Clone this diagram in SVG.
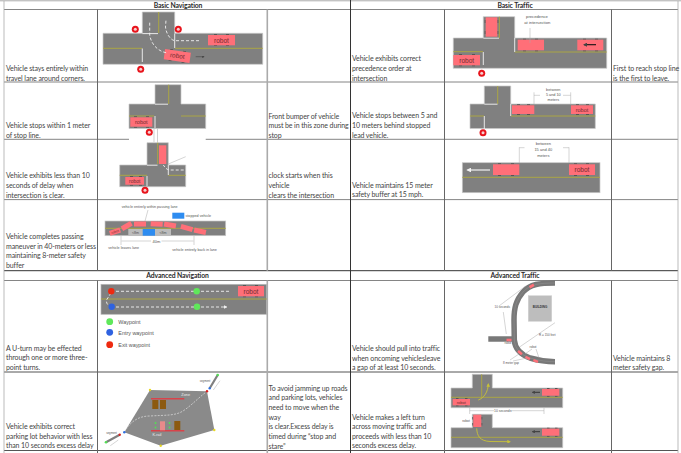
<svg xmlns="http://www.w3.org/2000/svg" width="681" height="453" viewBox="0 0 681 453">
<style>
.t{font-family:"Lato","Liberation Sans",sans-serif;font-size:7px;letter-spacing:-.1px;fill:#444}
.h{font-family:"Lato","Liberation Sans",sans-serif;font-size:6.8px;letter-spacing:-.1px;font-weight:700;fill:#2a2a2a;text-anchor:middle}
.s{font-family:"Liberation Sans",Arial,sans-serif;fill:#555}
.m{text-anchor:middle}
.rb{font-family:"Liberation Sans",Arial,sans-serif;fill:#702c30;text-anchor:middle}
.road{fill:#808080;stroke:#c8c8c8;stroke-width:.7}
.y{stroke:#aaa544;stroke-width:1;fill:none}
.w{stroke:#e8e8e8;stroke-width:1;fill:none}
.dash{stroke:#f2f2f2;stroke-width:.9;stroke-dasharray:3 2;fill:none}
.car{fill:#ff6f78}
.tire{fill:#555}
.thin{stroke:#aaa;stroke-width:.5;fill:none}
</style>
<defs>
<g id="stop"><circle r="3.5" fill="#e8141c"/><circle r="1.5" fill="#f6d0d0"/></g>
<marker id="ab" markerWidth="4" markerHeight="4" refX="3" refY="2" orient="auto"><path d="M0 0L4 2L0 4z" fill="#444"/></marker>
<marker id="aw" markerWidth="4" markerHeight="4" refX="3" refY="2" orient="auto"><path d="M0 0L4 2L0 4z" fill="#f2f2f2"/></marker>
<marker id="ay" markerWidth="4" markerHeight="4" refX="3" refY="2" orient="auto"><path d="M0 0L4 2L0 4z" fill="#c8c238"/></marker>
</defs>
<rect width="681" height="453" fill="#fff"/>

<g id="table-grid">
<path d="M0 .8H681" stroke="#aaa" stroke-width="1"/>
<path d="M4 9.500H678M4 82H678M4 139.300H678M4 199.600H678M4 280.500H678" stroke="#666" stroke-width=".8" fill="none"/>
<path d="M4 270.700H678" stroke="#333" stroke-width="1"/>
<path d="M4 372H678M4 450.500H678" stroke="#555" stroke-width="1"/>
<path d="M4 1V453M678 1V453" stroke="#aaa" stroke-width=".8"/>
<path d="M350.500 0V453" stroke="#333" stroke-width="1"/>
<path d="M97.500 9.500V270.700M97.500 280.500V453M444.500 9.500V270.700M444.500 280.500V453M611.500 9.500V270.700M611.500 280.500V453" stroke="#666" stroke-width="1"/>
<path d="M267.300 9.500V270.700M267.300 280.500V453" stroke="#aaa" stroke-width="1.600"/>
<rect x="129" y="137" width="76.700" height="5" fill="#fff"/>
</g>

<g id="headers">
<text class="h" x="178" y="8">Basic Navigation</text>
<text class="h" x="515" y="8">Basic Traffic</text>
<text class="h" x="177.500" y="278">Advanced Navigation</text>
<text class="h" x="515" y="278">Advanced Traffic</text>
</g>

<g id="cell-text">
<text class="t" x="6" y="71">Vehicle stays entirely within</text>
<text class="t" x="6" y="80.700">travel lane around corners.</text>
<text class="t" x="6" y="127.500">Vehicle stops within 1 meter</text>
<text class="t" x="6" y="137.500">of stop line.</text>
<text class="t" x="268.500" y="118.500">Front bumper of vehicle</text>
<text class="t" x="268.500" y="128">must be in this zone during</text>
<text class="t" x="268.500" y="137.500">stop</text>
<text class="t" x="6" y="178">Vehicle exhibits less than 10</text>
<text class="t" x="6" y="187.500">seconds of delay when</text>
<text class="t" x="6" y="197.500">intersection is clear.</text>
<text class="t" x="268.500" y="178">clock starts when this</text>
<text class="t" x="268.500" y="187.500">vehicle</text>
<text class="t" x="268.500" y="197.500">clears the intersection</text>
<text class="t" x="6" y="239">Vehicle completes passing</text>
<text class="t" x="6" y="248.700">maneuver in 40-meters or less</text>
<text class="t" x="6" y="258.300">maintaining 8-meter safety</text>
<text class="t" x="6" y="267.700">buffer</text>
<text class="t" x="6" y="350.500">A U-turn may be effected</text>
<text class="t" x="6" y="360">through one or more three-</text>
<text class="t" x="6" y="369.700">point turns.</text>
<text class="t" x="6" y="429">Vehicle exhibits correct</text>
<text class="t" x="6" y="438.700">parking lot behavior with less</text>
<text class="t" x="6" y="448.300">than 10 seconds excess delay</text>
<text class="t" x="268.500" y="390.700">To avoid jamming up roads</text>
<text class="t" x="268.500" y="400.300">and parking lots, vehicles</text>
<text class="t" x="268.500" y="410">need to move when the</text>
<text class="t" x="268.500" y="419.500">way</text>
<text class="t" x="268.500" y="429.300">is clear.Excess delay is</text>
<text class="t" x="268.500" y="439">timed during “stop and</text>
<text class="t" x="268.500" y="448.500">stare”</text>
<text class="t" x="352" y="61.300">Vehicle exhibits correct</text>
<text class="t" x="352" y="71">precedence order at</text>
<text class="t" x="352" y="80.600">intersection</text>
<text class="t" x="613" y="71">First to reach stop line</text>
<text class="t" x="613" y="80.600">is the first to leave.</text>
<text class="t" x="352" y="118.300">Vehicle stops between 5 and</text>
<text class="t" x="352" y="128">10 meters behind stopped</text>
<text class="t" x="352" y="137.600">lead vehicle.</text>
<text class="t" x="352" y="187.600">Vehicle maintains 15 meter</text>
<text class="t" x="352" y="197.300">safety buffer at 15 mph.</text>
<text class="t" x="352" y="351">Vehicle should pull into traffic</text>
<text class="t" x="352" y="360.600">when oncoming vehiclesleave</text>
<text class="t" x="352" y="370.300">a gap of at least 10 seconds.</text>
<text class="t" x="613" y="360.600">Vehicle maintains 8</text>
<text class="t" x="613" y="370.300">meter safety gap.</text>
<text class="t" x="352" y="419.600">Vehicle makes a left turn</text>
<text class="t" x="352" y="429.300">across moving traffic and</text>
<text class="t" x="352" y="438.600">proceeds with less than 10</text>
<text class="t" x="352" y="448.300">seconds excess delay.</text>
</g>

<g id="scene-corners">
<path class="road" d="M103 33.300H142.300V12H174.700V33.300H262.700V64.300H103z"/>
<path class="y" d="M103 48.300H142M158.700 12V33M175 48.300H262.700"/>
<path class="w" d="M142.300 33.600H158M174.700 33.500V48M142.300 48.500V62"/>
<path class="tire" d="M214 34h3v1h-3zM226 34h3v1h-3zM214 45h3v1h-3zM226 45h3v1h-3z"/>
<rect class="car" x="208" y="35" width="27" height="10.300"/>
<text class="rb" x="221.500" y="42.500" font-size="6.500">robot</text>
<g transform="translate(177.300 56) rotate(8)"><path class="tire" d="M-8-6h3v1h-3zM5-6h3v1h-3zM-8 5h3v1h-3zM5 5h3v1h-3z"/><rect class="car" x="-13" y="-5.200" width="26" height="10.400"/><text class="rb" y="2" font-size="6.500">robot</text></g>
<path class="dash" d="M199 40.700H175C170 40 166 33 165.500 27L166 20"/>
<path class="dash" d="M149.700 22.700V35C151 44 158 52 168 53"/>
<path d="M195.700 56.700H204" stroke="#444" stroke-width=".6" marker-end="url(#ab)"/>
<use href="#stop" x="135.300" y="29.300"/><use href="#stop" x="178.300" y="29.300"/><use href="#stop" x="140.700" y="69.300"/>
</g>

<g id="scene-stop-line">
<path class="road" d="M129 104H155V84.700H181V104H205.700V128.500H129z"/>
<path class="y" d="M129 116H154M168.700 84.700V104M181 116H205.700"/>
<path class="w" d="M155 104.200H168M155 116V128"/>
<path class="tire" d="M134 116.200h3v1h-3zM146 116.200h3v1h-3zM134 126.700h3v1h-3zM146 126.700h3v1h-3z"/>
<rect class="car" x="130.300" y="117.300" width="22" height="9.400"/>
<text class="rb" x="141.300" y="124" font-size="5.500">robot</text>
<path d="M154 128.500V142M157.500 128.500V142" stroke="#bbb" stroke-width=".7"/>
<use href="#stop" x="149.300" y="132.300"/>
</g>

<g id="scene-clock">
<path class="road" d="M119.700 165H147V142.700H168.300V165H185.700V186.700H119.700z"/>
<path class="y" d="M119.700 175.300H147M157.700 142.700V164M168.300 175.300H185.700"/>
<path class="w" d="M147 165.200H157.500M168.300 165V175M147 176V186"/>
<rect class="car" x="159" y="145.300" width="7.300" height="18.700"/>
<path class="tire" d="M130 176h3v1h-3zM139 176h3v1h-3zM130 184.700h3v1h-3zM139 184.700h3v1h-3z"/>
<rect class="car" x="125.300" y="177" width="18.700" height="7.700"/>
<text class="rb" x="134.700" y="183" font-size="5">robot</text>
<path class="thin" d="M168.300 164L185.700 156.700"/>
<path class="dash" d="M183.700 170H170C167 170 165.500 168 163.300 165"/>
<use href="#stop" x="145" y="190.300"/>
</g>

<g id="scene-passing">
<rect class="road" x="105" y="221" width="120.700" height="14.700"/>
<path class="y" d="M105 228.300H225.700"/>
<rect x="128.300" y="229" width="42.700" height="6.700" fill="#bcbcbc"/>
<rect x="142.700" y="229" width="12.300" height="6.700" fill="#2e8cf0"/>
<text class="s m" x="135.500" y="233.500" font-size="3.600">&lt;8m</text>
<text class="s m" x="163" y="233.500" font-size="3.600">&lt;8m</text>
<g class="car">
<g transform="translate(115 231.700) rotate(-18)"><rect x="-5.500" y="-2.500" width="11" height="5"/><text class="rb" y="1.200" font-size="3.400">robot</text></g>
<rect x="-5.500" y="-2.500" width="11" height="5" transform="translate(126.700 226) rotate(-30)"/>
<rect x="-6" y="-2.500" width="12" height="5" transform="translate(140 224)"/>
<rect x="-6" y="-2.500" width="12" height="5" transform="translate(156.700 224) rotate(3)"/>
<rect x="-6" y="-2.500" width="12" height="5" transform="translate(170 225) rotate(10)"/>
<rect x="-6" y="-2.500" width="12" height="5" transform="translate(186.700 228) rotate(15)"/>
<rect x="-6" y="-2.500" width="12" height="5" transform="translate(200 231.300) rotate(12)"/>
</g>
<rect x="172.300" y="212.700" width="12" height="6" fill="#2e8cf0"/>
<text class="s" x="185.500" y="217" font-size="3.700">stopped vehicle</text>
<text class="s" x="121.700" y="208.300" font-size="3.650">vehicle entirely within passing lane</text>
<path class="thin" d="M148 210L145 221M121 236V245M194 236V245"/>
<path class="thin" d="M151 241H121.500M161.500 241H193.500"/>
<text class="s m" x="156.500" y="242.500" font-size="4">40m</text>
<text class="s" x="108.300" y="248.700" font-size="3.650">vehicle leaves lane</text>
<text class="s" x="172.300" y="251" font-size="3.650">vehicle entirely back in lane</text>
</g>

<g id="scene-basic-precedence">
<path class="road" d="M453.300 38H483.300V16.700H514.700V38H606.700V68.300H453.300z"/>
<path class="y" d="M453.300 51.700H483M499.300 16.700V38M514.700 52H606.700"/>
<path class="w" d="M483.300 38.200H499M514.700 38V52M483.300 52V65"/>
<path class="tire" d="M484.700 20h1v3h-1zM484.700 31h1v3h-1zM497.300 20h1v3h-1zM497.300 31h1v3h-1zM523 38.700h3v1h-3zM535 38.700h3v1h-3zM523 50.300h3v1h-3zM535 50.300h3v1h-3zM583 38.700h3v1h-3zM595 38.700h3v1h-3zM583 50.300h3v1h-3zM595 50.300h3v1h-3zM459 54h3v1h-3zM472 54h3v1h-3zM459 65.300h3v1h-3zM472 65.300h3v1h-3z"/>
<rect class="car" x="485.700" y="17.300" width="11.600" height="19.400"/>
<rect class="car" x="517.700" y="39.700" width="26.300" height="10.600"/>
<rect class="car" x="577.300" y="39.700" width="26" height="10.600"/>
<rect class="car" x="453.300" y="55" width="26.700" height="10.300"/>
<text class="rb" x="466.700" y="62.600" font-size="6.500">robot</text>
<path d="M596 44.700H584" stroke="#111" stroke-width="1.100" marker-end="url(#ab)"/>
<path class="thin" d="M530 28V43"/>
<text class="s m" x="537" y="18" font-size="4.200">precedence</text>
<text class="s m" x="537.300" y="23.500" font-size="4.200">at intersection</text>
<use href="#stop" x="481.700" y="73.300"/>
</g>

<g id="scene-basic-between">
<path class="road" d="M470 104H484.300V86H510.700V104H595.300V128.500H470z"/>
<path class="y" d="M470 116H484M497.700 86V104M511 116H595.300"/>
<path class="w" d="M484.300 104.200H497.500M510.700 104V116M484.300 116V130"/>
<path class="tire" d="M517 104.300h3v1h-3zM527 104.300h3v1h-3zM517 114h3v1h-3zM527 114h3v1h-3zM576 104.300h3v1h-3zM586 104.300h3v1h-3zM576 114h3v1h-3zM586 114h3v1h-3z"/>
<rect class="car" x="512" y="105.300" width="22.300" height="8.700"/>
<rect class="car" x="571" y="105.300" width="22" height="8.700"/>
<text class="rb" x="582" y="111.800" font-size="5.600">robot</text>
<path class="thin" d="M534 92.300V104M570.700 92.300V104M534 95.300H540M563 95.300H570.700"/>
<text class="s m" x="553.300" y="90.500" font-size="3.800">between</text>
<text class="s m" x="553.300" y="95.500" font-size="3.800">5 and 10</text>
<text class="s m" x="553.300" y="100.500" font-size="3.800">meters</text>
<use href="#stop" x="483" y="132.700"/>
</g>

<g id="scene-basic-buffer">
<rect class="road" x="462.300" y="162.700" width="137.700" height="30"/>
<path class="y" d="M462.300 177.300H600"/>
<path class="tire" d="M498 163.300h3v1h-3zM511 163.300h3v1h-3zM498 175h3v1h-3zM511 175h3v1h-3zM574 163.300h3v1h-3zM586 163.300h3v1h-3zM574 175h3v1h-3zM586 175h3v1h-3z"/>
<rect class="car" x="493" y="164.300" width="26.300" height="10.700"/>
<rect class="car" x="569" y="164.300" width="26" height="10.700"/>
<text class="rb" x="582" y="172" font-size="6.500">robot</text>
<path d="M490 170H467.500" stroke="#f2f2f2" stroke-width="1.200" marker-end="url(#aw)"/>
<path class="thin" d="M519.300 147.300V163M569 147.300V163M519.300 147.700H524.500M563 147.700H569"/>
<text class="s m" x="543.300" y="144.600" font-size="4">between</text>
<text class="s m" x="543.300" y="151" font-size="4">15 and 40</text>
<text class="s m" x="543.300" y="157.300" font-size="4">meters</text>
</g>

<g id="scene-uturn">
<rect x="101" y="284.300" width="165.700" height="30" fill="#808080" stroke="#b8b8b8" stroke-width=".7"/>
<path class="y" d="M101 299H266.700"/>
<path class="tire" d="M243 285h3v1h-3zM255 285h3v1h-3zM243 296.300h3v1h-3zM255 296.300h3v1h-3z"/>
<rect class="car" x="238" y="286" width="26" height="10.300"/>
<text class="rb" x="251" y="293.500" font-size="6.500">robot</text>
<path class="dash" d="M111 291.300H231M111 293L106.500 300C106 303 108 305.500 110 306.500"/>
<path class="dash" d="M111 307H226.500" marker-end="url(#aw)"/>
<circle cx="111.300" cy="291.300" r="3.200" fill="#ee2a10"/>
<circle cx="196.700" cy="291.300" r="3.200" fill="#5fe85a"/>
<circle cx="111.700" cy="306.700" r="3.200" fill="#2f62e0"/>
<circle cx="197" cy="306.700" r="3.200" fill="#5fe85a"/>
<circle cx="109.700" cy="321.700" r="3.400" fill="#5fe85a"/>
<circle cx="109.700" cy="332.300" r="3.400" fill="#2f62e0"/>
<circle cx="109.700" cy="344.700" r="3.400" fill="#ee2a10"/>
<text class="s" x="118.300" y="323.500" font-size="5.400">Waypoint</text>
<text class="s" x="118.300" y="334.500" font-size="5.400">Entry waypoint</text>
<text class="s" x="118.300" y="346.500" font-size="5.400">Exit waypoint</text>
</g>

<g id="scene-parking">
<path d="M150 390L207 391.300L214.300 430L160.700 445.700L124.300 432.300z" fill="#8a8a8a"/>
<path d="M209.700 388.300L217.700 375M119.700 434.700L106 442.300" stroke="#808080" stroke-width="2.200" fill="none"/>
<path d="M151 398.700H184.300M151 430.700H184.300" stroke="#d8434a" stroke-width="1.400"/>
<rect x="152.300" y="400" width="6" height="9" fill="#8c5a10"/>
<rect x="160" y="400" width="6" height="9" fill="#8c5a10"/>
<rect x="174.300" y="421" width="6" height="9" fill="#8c5a10"/>
<rect x="160" y="421.300" width="5" height="9" fill="#e88a8a"/>
<g fill="#55dd55"><circle cx="155.500" cy="423" r="1"/><circle cx="155.500" cy="427.500" r="1"/><circle cx="169.500" cy="423" r="1"/><circle cx="169.500" cy="427.500" r="1"/></g>
<path d="M124.300 432.300C130 422 138 416 150 416C165 415 175 416 183 411C192 405 197 399 207 391.300" stroke="#e0e0e0" stroke-width=".7" stroke-dasharray="2 1.300" fill="none"/>
<path class="thin" d="M110.300 445.700L118.300 440M213.300 390L220 380.700"/>
<text x="185.700" y="396" font-family="Liberation Sans,Arial,sans-serif" font-size="3.800" fill="#eee" text-anchor="middle">Zone</text>
<text x="157" y="436" font-family="Liberation Sans,Arial,sans-serif" font-size="3.800" fill="#eee" text-anchor="middle">K-rail</text>
<text class="s m" x="205" y="381.800" font-size="2.800">segment</text>
<text class="s m" x="111.500" y="434.300" font-size="2.800">segment</text>
<g><circle cx="150" cy="390" r="1.200" fill="#e8d820"/><circle cx="214.300" cy="430" r="1.200" fill="#e8d820"/><circle cx="160.700" cy="445.700" r="1.200" fill="#e8d820"/><circle cx="207" cy="391.300" r="1.200" fill="#d82020"/><circle cx="124.300" cy="432.300" r="1.200" fill="#3070e0"/><circle cx="209.700" cy="388.300" r="1.200" fill="#3070e0"/><circle cx="217.700" cy="375" r="1.300" fill="#55dd55"/><circle cx="119.700" cy="434.700" r="1.200" fill="#d82020"/><circle cx="106" cy="442.300" r="1.300" fill="#55dd55"/></g>
</g>

<g id="scene-traffic-curve">
<path d="M555 283C540 283 530 284 523 292C516 300 514 308 514 320L514.300 340C515 350 522 355 530 358C540 361 548 361.700 555 361.700" fill="none" stroke="#787878" stroke-width="5.500"/>
<path d="M488.300 339H513" stroke="#787878" stroke-width="5.500"/>
<path d="M555 283C540 283 530 284 523 292C516 300 514 308 514 320L514.300 340C515 350 522 355 530 358C540 361 548 361.700 555 361.700" fill="none" stroke="#9a9a9a" stroke-width=".4"/>
<g class="car">
<rect x="-2.500" y="-1.300" width="5" height="2.600" transform="translate(531.700 286) rotate(-30)"/>
<rect x="-2.500" y="-1.300" width="5" height="2.600" transform="translate(509 340)"/>
<rect x="-2.500" y="-1.300" width="5" height="2.600" transform="translate(520 352.700) rotate(40)"/>
<rect x="-2.500" y="-1.300" width="5" height="2.600" transform="translate(527.700 358) rotate(25)"/>
<rect x="-2.500" y="-1.300" width="5" height="2.600" transform="translate(535.700 361) rotate(20)"/>
</g>
<rect x="528.300" y="295.700" width="23.400" height="25.600" fill="#bdbdbd" stroke="#ccc" stroke-width=".4"/>
<text x="540" y="307.500" font-family="Liberation Sans,Arial,sans-serif" font-size="3" font-weight="700" fill="#333" text-anchor="middle">BUILDING</text>
<path class="thin" d="M499 306L525.700 286M503.300 312L506.300 334M555 322.700L520 346.700M532 349L525 354M536 349L539 358M510 360L519 354M513 361L527 358"/>
<text class="s m" x="502.300" y="308" font-size="3">10 seconds</text>
<text class="s m" x="547.300" y="336" font-size="3">R = 150 feet</text>
<text class="s m" x="508" y="343.500" font-size="3">robot</text>
<text class="s m" x="533" y="348" font-size="3">robot</text>
<text class="s m" x="511" y="364" font-size="3">8 meter gap</text>
</g>

<g id="scene-left-turn">
<path class="road" d="M451 388H472.300V374.300H492.300V388H562.700V407.700H451z"/>
<path class="y" d="M451 397.300H562.700M481.700 374.300V397"/>
<path class="tire" d="M547 388h2.500v1h-2.500zM555 388h2.500v1h-2.500zM547 395.700h2.500v1h-2.500zM555 395.700h2.500v1h-2.500zM456 398h2.500v1h-2.500zM465 398h2.500v1h-2.500zM456 405.300h2.500v1h-2.500zM465 405.300h2.500v1h-2.500z"/>
<rect class="car" x="542" y="389" width="17.300" height="6.700"/>
<rect class="car" x="452.700" y="399" width="17.300" height="6.300"/>
<text class="rb" x="461.300" y="403.500" font-size="4">robot</text>
<path d="M540 392.300H532.500" stroke="#222" stroke-width=".8" marker-end="url(#ab)"/>
<path d="M478.300 400C484 398 488 392 488.300 384" stroke="#c8c238" stroke-width=".9" fill="none" marker-end="url(#ay)"/>
<path class="thin" d="M469.700 408V414M544 408V414M469.700 410.700H494M511 410.700H544"/>
<text class="s m" x="502.700" y="412" font-size="3.400">10 seconds</text>
<path class="road" d="M451 427.700H472.300V414.300H492.300V427.700H562.700V447.700H451z"/>
<path class="y" d="M451 437.300H562.700"/>
<path class="tire" d="M472.300 417h1v2.500h-1zM472.300 423h1v2.500h-1zM481.300 417h1v2.500h-1zM481.300 423h1v2.500h-1zM547 427.700h2.500v1h-2.500zM555 427.700h2.500v1h-2.500zM547 435.700h2.500v1h-2.500zM555 435.700h2.500v1h-2.500z"/>
<rect class="car" x="473.300" y="414.700" width="8" height="12.300"/>
<rect class="car" x="542" y="428.700" width="17.300" height="7"/>
<text class="s m" x="466" y="422" font-size="3.400">robot</text>
<path d="M540 431.700H532.500" stroke="#222" stroke-width=".8" marker-end="url(#ab)"/>
<path d="M476.700 428.300C477 436 480 441 490 441.500L510 441.700" stroke="#c8c238" stroke-width=".9" fill="none" marker-end="url(#ay)"/>
</g>
</svg>
